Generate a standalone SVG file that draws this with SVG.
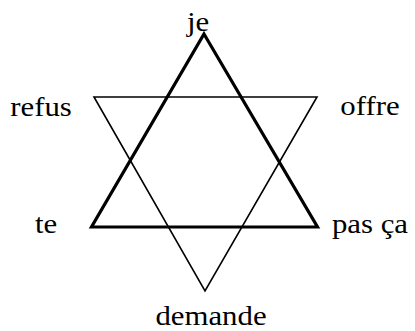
<svg xmlns="http://www.w3.org/2000/svg" width="415" height="331" viewBox="0 0 415 331">
<style>
.lbl{font-family:'Liberation Serif','Times New Roman',serif;font-weight:normal;font-size:28px;fill:#000;text-anchor:middle}
.thick{fill:none;stroke:#000;stroke-width:3.2;stroke-linejoin:miter}
.thin{fill:none;stroke:#000;stroke-width:1.6;stroke-linejoin:miter}
</style>
<rect width="415" height="331" fill="#fff"/>
<g id="connectors">
<polygon class="thin" points="94,97 317,97 205,291"/>
<polygon class="thick" points="204,34 317.5,227 91.5,227"/>
</g>
<g id="node-je"><text class="lbl" transform="translate(198,31) scale(1.1,1)">je</text></g>
<g id="node-refus"><text class="lbl" transform="translate(41,116) scale(1.1,1)">refus</text></g>
<g id="node-offre"><text class="lbl" transform="translate(370,115) scale(1.1,1)">offre</text></g>
<g id="node-te"><text class="lbl" transform="translate(46,233) scale(1.1,1)">te</text></g>
<g id="node-pasca"><text class="lbl" transform="translate(370,233) scale(1.1,1)">pas ça</text></g>
<g id="node-demande"><text class="lbl" transform="translate(211,325) scale(1.1,1)">demande</text></g>
</svg>
